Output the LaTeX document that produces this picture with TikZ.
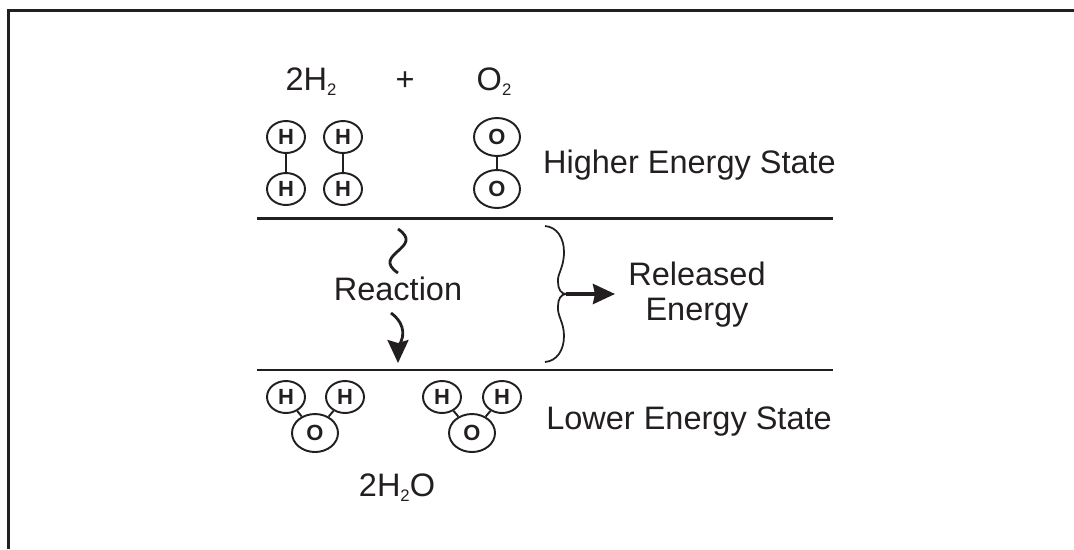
\documentclass[tikz,border=0pt]{standalone}
\usepackage{fontspec}
\setmainfont{Liberation Sans}
\usetikzlibrary{shapes.geometric, arrows.meta}
\definecolor{inkblack}{RGB}{35, 31, 32}
\newcommand{\subtwo}{\raisebox{-0.32ex}{\fontsize{9.5}{10}\selectfont 2}}
\tikzset{
  atomH/.style={ellipse, draw=inkblack, line width=1.1pt, inner sep=0pt, minimum width=0.76cm, minimum height=0.64cm, text=inkblack, font=\fontsize{12.5}{14}\selectfont\bfseries},
  atomO/.style={atomH, minimum width=0.92cm, minimum height=0.76cm},
  bond/.style={draw=inkblack, line width=1.1pt},
  levelline/.style={draw=inkblack, line width=1.3pt},
  txt/.style={anchor=base, text=inkblack, inner sep=0pt, font=\fontsize{18.5}{22}\selectfont}
}

\begin{document}
\begin{tikzpicture}[x=0.02cm, y=-0.02cm]
\useasboundingbox (0,0) rectangle (1074,549);
% Outer frame, open at the right and at the bottom
\draw[inkblack, line width=1.7pt] (8.5,549) -- (8.5,10.5) -- (1074,10.5);

% Equation
\node[txt] (hyd) at (311,90) {2H\subtwo};
\node[txt] (plus) at (405,90) {+};
\node[txt] (oxy) at (494,90) {O\subtwo};

% Reactants
\node[atomH] (h1) at (286,137) {H};
\node[atomH] (h2) at (286,189) {H};
\node[atomH] (h3) at (343,137) {H};
\node[atomH] (h4) at (343,189) {H};
\node[atomO] (o1) at (497,137) {O};
\node[atomO] (o2) at (497,189) {O};
\draw[bond] (h1) -- (h2);
\draw[bond] (h3) -- (h4);
\draw[bond] (o1) -- (o2);

% Energy levels
\coordinate (la) at (257,218.5);
\coordinate (lb) at (833,218.5);
\coordinate (lc) at (257,370);
\coordinate (ld) at (833,370);
\draw[levelline] (la) -- (lb);
\draw[levelline] (lc) -- (ld);
\node[txt] (high) at (689.5,173) {Higher Energy State};
\node[txt] (low) at (689,429) {Lower Energy State};

% Reaction
\node[txt] (react) at (398,300) {Reaction};
\coordinate (sa) at (398,229);
\coordinate (sb) at (398,273);
\coordinate (sc) at (391,313);
\coordinate (sd) at (398,363);
\draw[inkblack, line width=1.6pt] (sa) .. controls (426,248) and (370,254) .. (sb);
\draw[inkblack, line width=1.6pt, -{Stealth[length=0.46cm, width=0.42cm, inset=0.06cm]}] (sc) .. controls (401,320) and (408,333) .. (398,347) -- (sd);

% Released energy
\coordinate (ba) at (545,226);
\coordinate (bt) at (566,294);
\coordinate (bb) at (545,362);
\coordinate (bh) at (615,294);
\draw[inkblack, line width=1pt] (ba) .. controls (557,227) and (564,238) .. (564,252)
  .. controls (564,268) and (557,274) .. (558,282) .. controls (558,289) and (561,294) .. (bt)
  .. controls (561,294) and (558,299) .. (558,306) .. controls (557,316) and (564,322) .. (564,336)
  .. controls (564,350) and (557,361) .. (bb);
\draw[inkblack, line width=2.2pt, -{Stealth[length=0.44cm, width=0.4cm, inset=0.04cm]}] (bt) -- (bh);
\node[txt] (rel) at (697,285) {Released};
\node[txt] (ene) at (697,320) {Energy};

% Products
\node[atomH] (w1) at (286,397) {H};
\node[atomH] (w2) at (345,397) {H};
\node[atomO] (w3) at (315,433) {O};
\node[atomH] (w4) at (442,397) {H};
\node[atomH] (w5) at (502,397) {H};
\node[atomO] (w6) at (472,433) {O};
\draw[bond] (w1) -- (w3);
\draw[bond] (w2) -- (w3);
\draw[bond] (w4) -- (w6);
\draw[bond] (w5) -- (w6);
\node[txt] (water) at (397,496) {2H\subtwo O};
\end{tikzpicture}
\end{document}
